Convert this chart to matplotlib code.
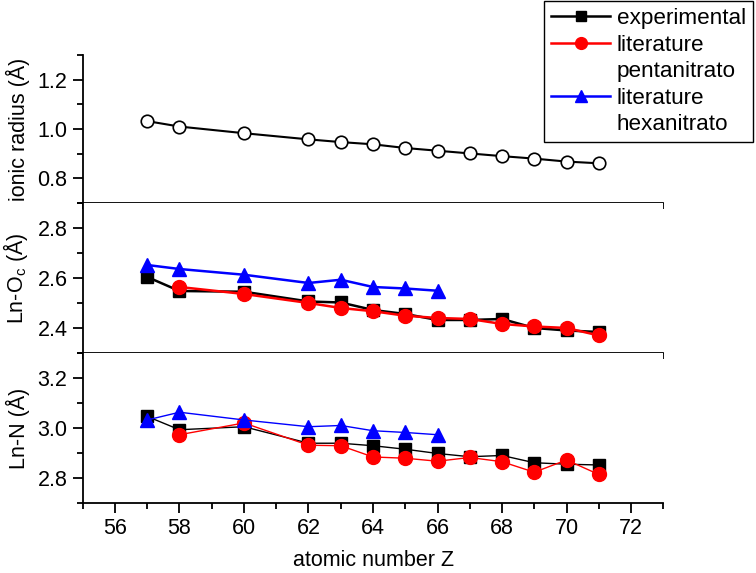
import matplotlib
matplotlib.use("Agg")
import matplotlib.pyplot as plt
from matplotlib.lines import Line2D
from matplotlib.ticker import MultipleLocator

plt.rcParams['font.family'] = ['Liberation Sans', 'DejaVu Sans']
plt.rcParams['font.size'] = 15.5

# atomic numbers
z_all = [57, 58, 60, 62, 63, 64, 65, 66, 67, 68, 69, 70, 71]
z_penta = [58, 60, 62, 63, 64, 65, 66, 67, 68, 69, 70, 71]
z_hexa = [57, 58, 60, 62, 63, 64, 65, 66]

# ionic radius (A)
radius = [1.032, 1.010, 0.983, 0.958, 0.947, 0.938, 0.923, 0.912, 0.901, 0.890, 0.880, 0.868, 0.861]

# Ln-Oc distances
oc_exp = [2.604, 2.548, 2.545, 2.506, 2.502, 2.472, 2.456, 2.432, 2.432, 2.436, 2.400, 2.390, 2.384]
oc_penta = [2.564, 2.536, 2.500, 2.480, 2.467, 2.449, 2.440, 2.436, 2.416, 2.406, 2.400, 2.370]
oc_hexa = [2.652, 2.636, 2.613, 2.580, 2.593, 2.564, 2.558, 2.549]

# Ln-N distances
n_exp = [3.046, 2.993, 3.005, 2.939, 2.939, 2.929, 2.915, 2.898, 2.885, 2.890, 2.861, 2.855, 2.852]
n_penta = [2.973, 3.020, 2.931, 2.929, 2.884, 2.879, 2.867, 2.882, 2.865, 2.823, 2.872, 2.814]
n_hexa = [3.032, 3.063, 3.032, 3.005, 3.010, 2.989, 2.982, 2.973]

fig = plt.figure(figsize=(7.56, 5.73), dpi=100)
left, width = 0.1094, 0.768
ax1 = fig.add_axes([left, 0.6457, width, 0.2583])
ax2 = fig.add_axes([left, 0.3840, width, 0.2617], sharex=ax1)
ax3 = fig.add_axes([left, 0.1222, width, 0.2618], sharex=ax1)

ms = 9
ax1.plot(z_all, radius, '-o', color='black', mfc='white', mec='black', ms=ms, lw=1.5, mew=1.2)

l1, = ax2.plot(z_all, oc_exp, '-s', color='black', ms=ms - 1, lw=1.8)
l2, = ax2.plot(z_penta, oc_penta, '-o', color='red', ms=ms + 1, lw=1.8)
l3, = ax2.plot(z_hexa, oc_hexa, '-^', color='blue', ms=ms + 1, lw=1.8)

ax3.plot(z_all, n_exp, '-s', color='black', ms=ms - 1, lw=1.0)
ax3.plot(z_penta, n_penta, '-o', color='red', ms=ms + 1, lw=1.0)
ax3.plot(z_hexa, n_hexa, '-^', color='blue', ms=ms + 1, lw=1.0)

ax1.set_ylim(0.7, 1.3)
ax2.set_ylim(2.3, 2.9)
ax3.set_ylim(2.7, 3.3)
ax1.set_xlim(55, 73)

for ax in (ax1, ax2, ax3):
    ax.spines['top'].set_visible(False)
    ax.spines['right'].set_visible(False)
    ax.spines['left'].set_linewidth(1.3)
    ax.spines['bottom'].set_linewidth(1.3)
    ax.yaxis.set_major_locator(MultipleLocator(0.2))
    ax.yaxis.set_minor_locator(MultipleLocator(0.1))
    ax.xaxis.set_major_locator(MultipleLocator(2))
    ax.xaxis.set_minor_locator(MultipleLocator(1))
    ax.tick_params(which='major', direction='out', length=7, width=1.3, pad=4)
    ax.tick_params(which='minor', direction='out', length=4.5, width=1.3)
    ax.yaxis.set_major_formatter(plt.FormatStrFormatter('%.1f'))
    ax.yaxis.set_label_coords(-0.09, 0.5)

ax1.tick_params(axis='x', which='both', labelbottom=False)
ax2.tick_params(axis='x', which='both', labelbottom=False)

ax1.set_ylabel('ionic radius (Å)')
ax2.set_ylabel('Ln-O$_\\mathregular{c}$ (Å)')
ax3.set_ylabel('Ln-N (Å)')
ax3.set_xlabel('atomic number Z', labelpad=8)

# second line of the two-line legend labels gets an empty handle
blank = Line2D([], [], color='none')
leg = fig.legend([l1, l2, blank, l3, blank],
                 ['experimental', 'literature', 'pentanitrato', 'literature', 'hexanitrato'],
                 loc='upper right', bbox_to_anchor=(0.996, 0.998),
                 borderaxespad=0, fancybox=False, edgecolor='black', framealpha=1,
                 fontsize=16.2, handlelength=2.6, handletextpad=0.3, labelspacing=0.24,
                 borderpad=0.32, markerscale=0.85)
leg.get_frame().set_linewidth(1.0)

fig.savefig('out.png', dpi=100)
